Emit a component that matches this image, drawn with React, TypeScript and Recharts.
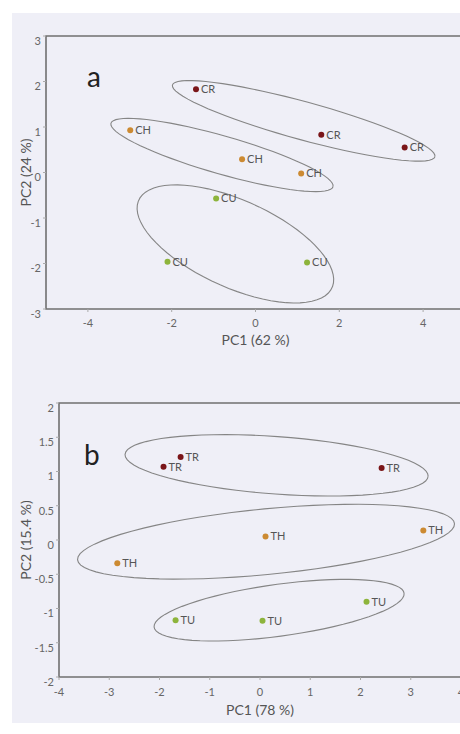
import {
  ScatterChart,
  Scatter,
  XAxis,
  YAxis,
  ReferenceArea,
  Label,
} from "recharts";

// panel a: PCA scores (PC1, PC2)
const aCRx = [-1.42, 1.57, 3.56];
const aCRy = [1.83, 0.83, 0.55];
const aCHx = [-2.99, -0.32, 1.09];
const aCHy = [0.93, 0.29, -0.02];
const aCUx = [-0.94, -2.1, 1.23];
const aCUy = [-0.57, -1.96, -1.98];

// panel b
const bTRx = [-1.58, -1.92, 2.42];
const bTRy = [1.21, 1.07, 1.05];
const bTHx = [-2.84, 0.11, 3.25];
const bTHy = [-0.34, 0.05, 0.14];
const bTUx = [-1.68, 0.05, 2.12];
const bTUy = [-1.17, -1.18, -0.9];

// group ellipses: centre x, centre y, semi-major, semi-minor, angle (deg)
const ellCR = [1.15, 1.135, 3.23, 0.42, -14.1];
const ellCH = [-0.8, 0.385, 2.74, 0.42, -14.7];
const ellCU = [-0.48, -1.57, 2.5, 0.97, -22];
const ellTR = [0.33, 1.09, 3.02, 0.42, -3];
const ellTH = [0.12, -0.025, 3.76, 0.48, 4];
const ellTU = [0.38, -1.025, 2.5, 0.38, 5.6];

const aXTicks = [-4, -2, 0, 2, 4];
const aYTicks = [-3, -2, -1, 0, 1, 2, 3];
const bXTicks = [-4, -3, -2, -1, 0, 1, 2, 3, 4];
const bYTicks = [-2, -1.5, -1, -0.5, 0, 0.5, 1, 1.5, 2];

const RED = "#7a1518";
const ORANGE = "#cc8a32";
const GREEN = "#8db43c";
const FONT = "Lato, 'Liberation Sans', sans-serif";

function pts(xs: number[], ys: number[], name: string) {
  return xs.map((x, i) => ({ x, y: ys[i], name }));
}

function outline(e: number[]) {
  const [cx, cy, a, b, deg] = e;
  const r = (deg * Math.PI) / 180;
  return Array.from({ length: 73 }, (_, i) => {
    const t = (i * 5 * Math.PI) / 180;
    return {
      x: cx + a * Math.cos(t) * Math.cos(r) - b * Math.sin(t) * Math.sin(r),
      y: cy + a * Math.cos(t) * Math.sin(r) + b * Math.sin(t) * Math.cos(r),
    };
  });
}

const dot = (color: string) => (p: any) => (
  <g>
    <circle cx={p.cx} cy={p.cy} r={3} fill={color} />
    <text
      x={p.cx + 5}
      y={p.cy}
      dy="0.35em"
      fontSize={11}
      fontFamily={FONT}
      fill="#555"
    >
      {p.payload.name}
    </text>
  </g>
);

const noDot = () => <g />;

const yTick = (size: number) => (p: any) => (
  <text
    x={p.x}
    y={p.y + 5}
    dy="0.35em"
    textAnchor="end"
    fontSize={size}
    fontFamily={FONT}
    fill="#666"
  >
    {p.payload.value}
  </text>
);

const xTick = (shift: number, size: number) => (p: any) => (
  <text
    x={p.x}
    y={p.y + shift}
    dy="0.35em"
    textAnchor="middle"
    fontSize={size}
    fontFamily={FONT}
    fill="#666"
  >
    {p.payload.value}
  </text>
);

const ellLine = { stroke: "#858585", strokeWidth: 1.1 };
const frame = "#707070";

function Panel({
  top,
  height,
  margin,
  yWidth,
  xDomain,
  yDomain,
  xTicks,
  yTicks,
  xShift,
  tickSize,
  titleOffset,
  xTitle,
  yTitle,
  letter,
  letterPos,
  groups,
}: any) {
  return (
    <div style={{ position: "absolute", left: 0, top }}>
      <ScatterChart width={470} height={height} margin={margin}>
        <XAxis
          type="number"
          dataKey="x"
          domain={xDomain}
          ticks={xTicks}
          allowDataOverflow
          axisLine={false}
          tickSize={3}
          tickLine={{ stroke: "#aaa" }}
          tick={xTick(xShift, tickSize)}
          height={30}
        >
          <Label
            value={xTitle}
            position="insideTop"
            offset={titleOffset}
            fontSize={14}
            fontFamily={FONT}
            fill="#555"
          />
        </XAxis>
        <YAxis
          type="number"
          dataKey="y"
          domain={yDomain}
          ticks={yTicks}
          allowDataOverflow
          axisLine={false}
          tickSize={3}
          tickLine={{ stroke: "#aaa" }}
          tick={yTick(tickSize)}
          width={yWidth}
        >
          <Label
            value={yTitle}
            position="insideLeft"
            angle={-90}
            offset={16}
            fontSize={14}
            fontFamily={FONT}
            fill="#555"
            style={{ textAnchor: "middle" }}
          />
        </YAxis>
        <ReferenceArea
          x1={xDomain[0]}
          x2={xDomain[1]}
          y1={yDomain[0]}
          y2={yDomain[1]}
          fill="none"
          stroke={frame}
          strokeWidth={1.6}
          fillOpacity={0}
        />
        {groups.map((g: any, i: number) => (
          <Scatter
            key={"e" + i}
            data={outline(g.ell)}
            line={ellLine}
            lineType="joint"
            shape={noDot}
            isAnimationActive={false}
          />
        ))}
        {groups.map((g: any, i: number) => (
          <Scatter
            key={"p" + i}
            data={g.data}
            shape={dot(g.color)}
            isAnimationActive={false}
          />
        ))}
      </ScatterChart>
      <div
        style={{
          position: "absolute",
          left: letterPos[0],
          top: letterPos[1],
          fontFamily: FONT,
          fontSize: 28,
          lineHeight: "28px",
          color: "#222",
        }}
      >
        {letter}
      </div>
    </div>
  );
}

export default function App() {
  const groupsA = [
    { data: pts(aCRx, aCRy, "CR"), ell: ellCR, color: RED },
    { data: pts(aCHx, aCHy, "CH"), ell: ellCH, color: ORANGE },
    { data: pts(aCUx, aCUy, "CU"), ell: ellCU, color: GREEN },
  ];
  const groupsB = [
    { data: pts(bTRx, bTRy, "TR"), ell: ellTR, color: RED },
    { data: pts(bTHx, bTHy, "TH"), ell: ellTH, color: ORANGE },
    { data: pts(bTUx, bTUy, "TU"), ell: ellTU, color: GREEN },
  ];
  return (
    <div
      style={{
        position: "absolute",
        left: 0,
        top: 0,
        width: 460,
        height: 734,
        overflow: "hidden",
        background: "#fff",
      }}
    >
      <div
        style={{
          position: "absolute",
          left: 12,
          top: 13,
          width: 448,
          height: 710,
          background: "#efeff7",
        }}
      />
      <Panel
        top={0}
        height={360}
        margin={{ top: 36, right: 5, bottom: 21, left: 10 }}
        yWidth={36}
        xDomain={[-5, 5]}
        yDomain={[-3, 3]}
        xTicks={aXTicks}
        yTicks={aYTicks}
        xShift={9}
        tickSize={11}
        titleOffset={26}
        xTitle="PC1 (62 %)"
        yTitle="PC2 (24 %)"
        letter="a"
        letterPos={[87, 62]}
        groups={groupsA}
      />
      <Panel
        top={360}
        height={374}
        margin={{ top: 43, right: 9, bottom: 27, left: 10 }}
        yWidth={49}
        xDomain={[-4, 4]}
        yDomain={[-2, 2]}
        xTicks={bXTicks}
        yTicks={bYTicks}
        xShift={10}
        tickSize={11}
        titleOffset={28}
        xTitle="PC1 (78 %)"
        yTitle="PC2 (15.4 %)"
        letter="b"
        letterPos={[84, 80]}
        groups={groupsB}
      />
    </div>
  );
}
